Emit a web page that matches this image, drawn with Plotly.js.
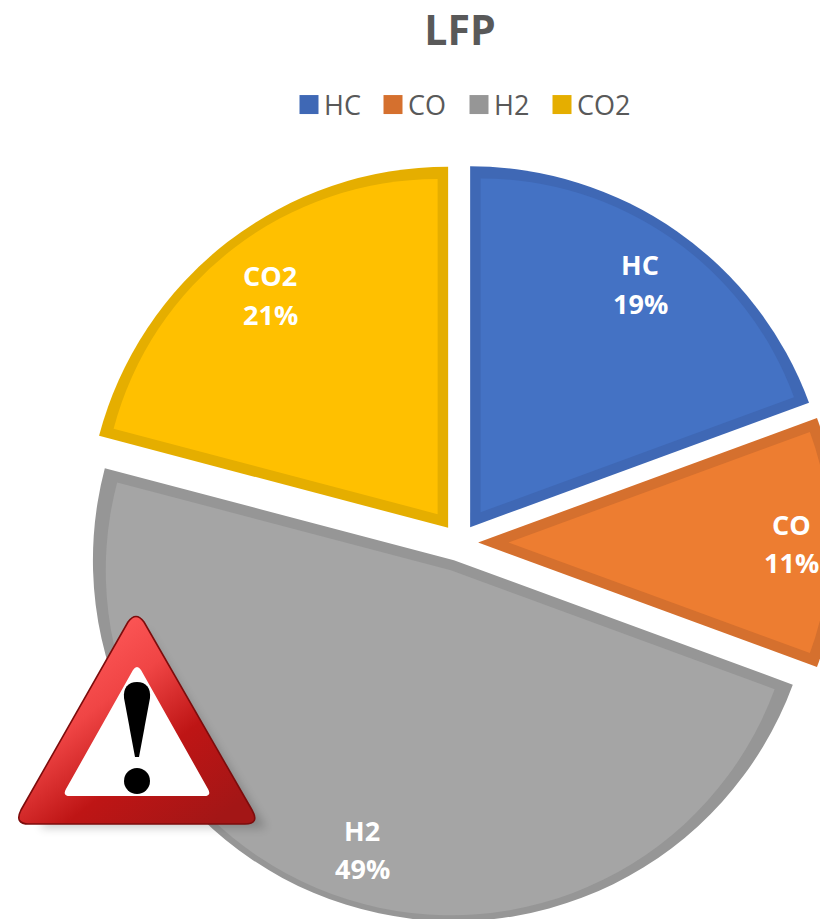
<!DOCTYPE html>
<html>
<head>
<meta charset="utf-8">
<script src="https://cdn.plot.ly/plotly-3.0.1.min.js"></script>
<style>html,body{margin:0;padding:0;width:820px;height:919px;overflow:hidden;background:#fff}</style>
</head>
<body>
<div id="chart"></div>
<script>
// Data
const categories = ['HC', 'CO', 'H2', 'CO2'];
const shares = [19.4, 11.2, 48.5, 20.9];
const fillColors = ['#4472C4', '#ED7D31', '#A5A5A5', '#FFC000'];
const borderColors = ['#3F68B5', '#D5702E', '#969696', '#E5AE00'];
const labelX = [640, 791, 362, 270];
const labelY = [264.5, 524.5, 830.5, 275.5];
const valueY = [303.5, 562.5, 868.5, 314.5];
const legendSteps = [0, 84, 170, 253];

// Layout constants (figure is wider/taller than the window so the pie is cropped as in the reference)
const W = 900, H = 960;
const cx = 459.5, cy = 542.5, R = 361, pullPx = 18.6, band = 10.5;
const px = x => x / W, py = y => 1 - y / H;
const domainFor = half => ({x: [px(cx - half), px(cx + half)], y: [py(cy + half), py(cy - half)]});

const warningSvg = `<svg xmlns="http://www.w3.org/2000/svg" width="290" height="250" viewBox="0 0 290 250">
<defs>
<linearGradient id="g" gradientUnits="userSpaceOnUse" x1="70" y1="40" x2="210" y2="225">
<stop offset="0" stop-color="#FF5A5A"/><stop offset="0.3" stop-color="#F04545"/>
<stop offset="0.62" stop-color="#BE1515"/><stop offset="1" stop-color="#A31616"/></linearGradient>
<filter id="s" x="-20%" y="-20%" width="140%" height="140%"><feGaussianBlur stdDeviation="5"/></filter>
</defs>
<path d="M146,30 L266,228 L40,228 Z" fill="#000" opacity="0.2" filter="url(#s)"/>
<path d="M128,22 Q136,11 144,22 L252,210 Q260,224 245,224 L29,224 Q14,224 21,210 Z" fill="url(#g)" stroke="#7D0C0C" stroke-width="1.6"/>
<path d="M133,70 Q137,64 141,70 L208,189 Q212,196 204,196 L70,196 Q62,196 66,189 Z" fill="#fff"/>
<path d="M137,82 C146,82 151,88 150,98 L139,157 L135,157 L124,98 C123,88 128,82 137,82 Z" fill="#000"/>
<circle cx="137" cy="181" r="13" fill="#000"/>
</svg>`;

const annotations = [];
categories.forEach((c, i) => {
  [[c, labelY[i]], [Math.round(shares[i]) + '%', valueY[i]]].forEach(([t, y]) => annotations.push({
    xref: 'paper', yref: 'paper', x: px(labelX[i]), y: py(y),
    xanchor: 'center', yanchor: 'middle', showarrow: false, text: t,
    font: {family: 'Open Sans, sans-serif', size: 27, color: '#FFFFFF', weight: 700}
  }));
});

// Base pie: exploded slices in the border colour
const traces = [{
  type: 'pie', labels: categories, values: shares,
  sort: false, direction: 'clockwise', rotation: 0,
  pull: pullPx / R, textinfo: 'none', hoverinfo: 'label+percent',
  marker: {colors: borderColors, line: {width: 0}},
  domain: domainFor(R + pullPx)
}];

// Inner faces: one slice per trace, inset from the base slice by the border width
const total = shares.reduce((a, b) => a + b, 0);
let cumulative = 0;
shares.forEach((s, i) => {
  const halfAngle = (s / total) * Math.PI;
  const inset = band / Math.sin(halfAngle);
  const d = pullPx + inset;
  const r = R - band - inset + inset * (1 - Math.cos(halfAngle)) / 2;
  traces.push({
    type: 'pie', labels: [categories[i], 'rest'], values: [s, total - s],
    sort: false, direction: 'clockwise', rotation: cumulative / total * 360,
    pull: [d / r, 0], textinfo: 'none', hoverinfo: 'skip', showlegend: false,
    marker: {colors: [fillColors[i], 'rgba(0,0,0,0)'], line: {width: 0}},
    domain: domainFor(r + d)
  });
  cumulative += s;
});

const layout = {
  width: W, height: H, autosize: false,
  margin: {l: 0, r: 0, t: 0, b: 0, autoexpand: false},
  paper_bgcolor: '#FFFFFF',
  title: {text: 'LFP', x: px(460), xref: 'paper', xanchor: 'center', y: py(31), yref: 'paper', yanchor: 'middle',
          font: {family: 'Open Sans, sans-serif', size: 41, color: '#595959', weight: 700}},
  showlegend: true,
  legend: {orientation: 'h', x: px(284), xanchor: 'left', y: py(105), yanchor: 'middle',
           font: {family: 'Open Sans, sans-serif', size: 27, color: '#595959'},
           itemclick: false, itemdoubleclick: false, bgcolor: 'rgba(0,0,0,0)'},
  annotations: annotations,
  images: [{
    source: 'data:image/svg+xml;charset=utf-8,' + encodeURIComponent(warningSvg),
    xref: 'paper', yref: 'paper', x: px(0), y: py(600), sizex: 290 / W, sizey: 250 / H,
    xanchor: 'left', yanchor: 'top', sizing: 'stretch', layer: 'above'
  }]
};

Plotly.newPlot('chart', traces, layout, {displayModeBar: false}).then(gd => {
  // Square legend keys, larger than the default and closer to their text; entries spaced as in the reference
  gd.querySelectorAll('.legend path.legendpie').forEach(p => {
    p.setAttribute('d', 'M9.5,9.5H-9.5V-9.5H9.5Z');
    p.setAttribute('transform', 'translate(25,0)');
  });
  const box = gd.querySelector('.legend .scrollbox');
  if (box) box.removeAttribute('clip-path');
  const entries = gd.querySelectorAll('.legend g.traces');
  const m = /translate\(\s*([-\d.]+)[ ,]+([-\d.]+)/.exec(entries[0].getAttribute('transform'));
  entries.forEach((e, i) => {
    e.setAttribute('transform', `translate(${+m[1] + legendSteps[i]},${m[2]})`);
  });
});
</script>
</body>
</html>
